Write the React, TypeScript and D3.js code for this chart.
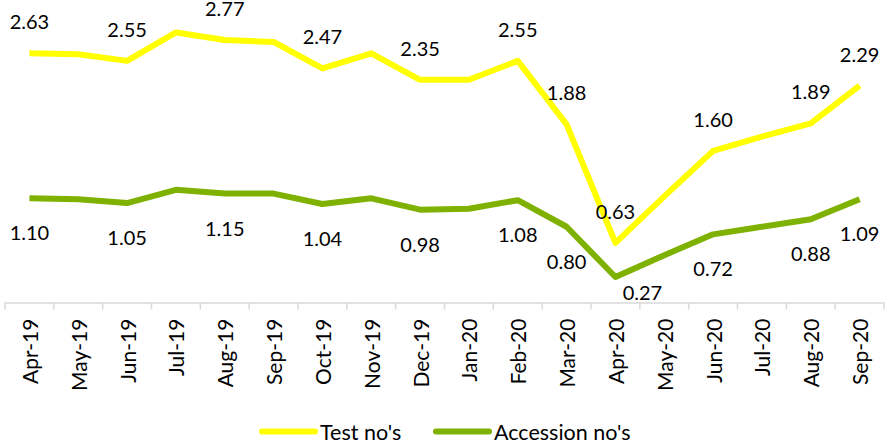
import { useEffect, useRef } from "react";
import { axisBottom, line, scaleBand, scaleLinear, select } from "d3";

const categories = [
  "Apr-19", "May-19", "Jun-19", "Jul-19", "Aug-19", "Sep-19", "Oct-19", "Nov-19", "Dec-19",
  "Jan-20", "Feb-20", "Mar-20", "Apr-20", "May-20", "Jun-20", "Jul-20", "Aug-20", "Sep-20",
];

const testValues = [2.63, 2.62, 2.55, 2.85, 2.77, 2.75, 2.47, 2.63, 2.35, 2.35, 2.55, 1.88, 0.63, 1.12, 1.6, 1.75, 1.89, 2.29];
const accessionValues = [1.1, 1.09, 1.05, 1.19, 1.15, 1.15, 1.04, 1.1, 0.98, 0.99, 1.08, 0.8, 0.27, 0.5, 0.72, 0.8, 0.88, 1.09];

// which points carry a data label
const labelledIdx = [0, 2, 4, 6, 8, 10, 11, 12, 14, 16, 17];

const seriesNames = ["Test no's", "Accession no's"];
const seriesColors = ["#ffff00", "#7fb100"];

const FONT = "Lato, 'Open Sans', sans-serif";

export default function App() {
  const svgRef = useRef<SVGSVGElement | null>(null);

  useEffect(() => {
    const svg = select(svgRef.current);
    svg.selectAll("*").remove();

    const x = scaleBand<string>().domain(categories).range([5, 884]);
    const y = scaleLinear().domain([0, 3]).range([302.6, 18.2]);
    const cx = (i: number) => (x(categories[i]) || 0) + x.bandwidth() / 2;

    // x axis
    const xAxis = svg.append("g").attr("transform", `translate(0, ${y(0)})`);
    xAxis.call(axisBottom(x).tickSizeOuter(0).tickSizeInner(0).tickFormat(() => ""));
    xAxis.select(".domain").attr("stroke", "#d9d9d9").attr("stroke-width", 1.5);
    xAxis.selectAll(".tick").remove();

    // tick marks between categories
    const edges = categories.map((c) => x(c) || 0).concat([x.range()[1]]);
    xAxis
      .selectAll(".sep")
      .data(edges)
      .enter()
      .append("line")
      .attr("x1", (d) => d)
      .attr("x2", (d) => d)
      .attr("y1", 0)
      .attr("y2", 7)
      .attr("stroke", "#d9d9d9")
      .attr("stroke-width", 1.5);

    xAxis
      .selectAll(".cat")
      .data(categories)
      .enter()
      .append("text")
      .attr("transform", (_d, i) => `translate(${cx(i)}, 16) rotate(-90)`)
      .attr("text-anchor", "end")
      .attr("dominant-baseline", "central")
      .attr("font-family", FONT)
      .attr("font-size", 21)
      .attr("fill", "#000")
      .text((d) => d);

    const path = line<number>()
      .x((_d, i) => cx(i))
      .y((d) => y(d));

    [testValues, accessionValues].forEach((vals, s) => {
      svg
        .append("path")
        .datum(vals)
        .attr("d", path)
        .attr("fill", "none")
        .attr("stroke", seriesColors[s])
        .attr("stroke-width", 6)
        .attr("stroke-linejoin", "round");
    });

    // data labels: test above, accession below
    const lbl = svg.append("g").attr("font-family", FONT).attr("font-size", 20).attr("fill", "#000");
    labelledIdx.forEach((i) => {
      lbl
        .append("text")
        .attr("x", cx(i))
        .attr("y", y(testValues[i]) - 32)
        .attr("text-anchor", "middle")
        .attr("dominant-baseline", "central")
        .text(testValues[i].toFixed(2));
      const low = i === 12;
      lbl
        .append("text")
        .attr("x", cx(i) + (low ? 27 : 0))
        .attr("y", y(accessionValues[i]) + (low ? 15 : 34))
        .attr("text-anchor", "middle")
        .attr("dominant-baseline", "central")
        .text(accessionValues[i].toFixed(2));
    });

    // legend
    const legendX = [262, 436];
    const legend = svg.append("g");
    seriesNames.forEach((name, s) => {
      legend
        .append("line")
        .attr("x1", legendX[s])
        .attr("x2", legendX[s] + 53)
        .attr("y1", 431.5)
        .attr("y2", 431.5)
        .attr("stroke", seriesColors[s])
        .attr("stroke-width", 6)
        .attr("stroke-linecap", "round");
      legend
        .append("text")
        .attr("x", legendX[s] + 58)
        .attr("y", 431.5)
        .attr("dominant-baseline", "central")
        .attr("font-family", FONT)
        .attr("font-size", 21.5)
        .attr("fill", "#000")
        .text(name);
    });
  }, []);

  return (
    <svg
      ref={svgRef}
      width={886}
      height={444}
      style={{ position: "absolute", left: 0, top: 0, background: "#fff" }}
    ></svg>
  );
}
